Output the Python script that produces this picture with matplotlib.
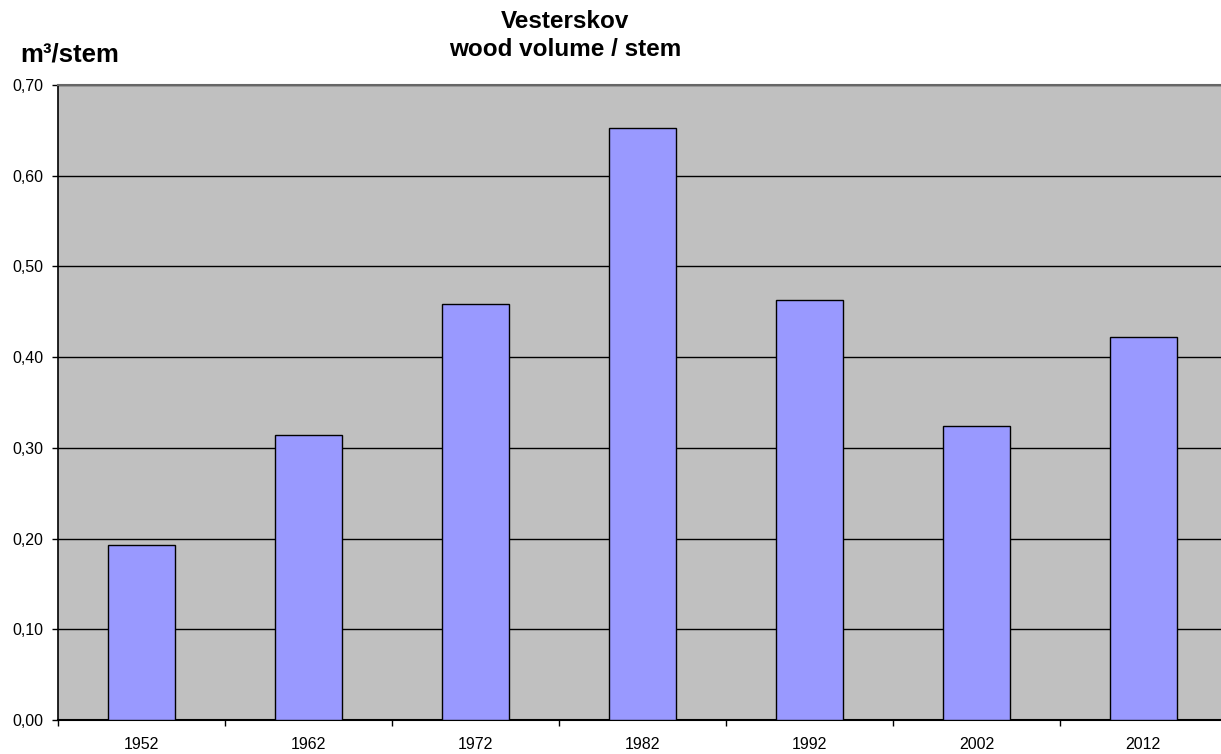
import matplotlib
matplotlib.use("Agg")
import matplotlib.pyplot as plt
from matplotlib.ticker import FixedLocator, NullFormatter

years = ["1952", "1962", "1972", "1982", "1992", "2002", "2012"]
values = [0.193, 0.314, 0.459, 0.653, 0.463, 0.324, 0.422]
yticks = [0.0, 0.1, 0.2, 0.3, 0.4, 0.5, 0.6, 0.7]

plt.rcParams['font.family'] = ['Liberation Sans', 'DejaVu Sans']

fig = plt.figure(figsize=(12.21, 7.54), dpi=100)
ax = fig.add_axes([58.3 / 1221, 34 / 754, 1168.5 / 1221, 635 / 754])
ax.set_facecolor('#c0c0c0')

x = list(range(len(years)))
ax.bar(x, values, width=0.404, color='#9999ff', edgecolor='black', linewidth=1.0, zorder=3)

ax.set_xlim(-0.5, len(years) - 0.5)
ax.set_ylim(0, 0.70)
ax.set_yticks(yticks)
ax.set_yticklabels([f"{v:.2f}".replace('.', ',') for v in yticks], fontsize=11.5)
ax.yaxis.grid(True, color='black', linewidth=1.0, zorder=1)
ax.set_axisbelow(True)

ax.set_xticks(x)
ax.set_xticklabels(years, fontsize=11.5)
ax.tick_params(axis='x', which='major', length=0, pad=12)
ax.xaxis.set_minor_locator(FixedLocator([i + 0.5 for i in range(-1, len(years))]))
ax.xaxis.set_minor_formatter(NullFormatter())
ax.tick_params(axis='x', which='minor', length=4, width=1, color='black')
ax.tick_params(axis='y', length=4, width=1, color='black', pad=7)

ax.spines['left'].set_color('black')
ax.spines['left'].set_linewidth(1.2)
ax.spines['bottom'].set_color('black')
ax.spines['bottom'].set_linewidth(1.5)
ax.spines['top'].set_color('#666666')
ax.spines['top'].set_linewidth(1.5)
ax.spines['right'].set_visible(False)

fig.text(565 / 1221, 1 - 21 / 754, "Vesterskov", ha='center', va='center',
         fontsize=17.5, fontweight='bold')
fig.text(565 / 1221, 1 - 49 / 754, "wood volume / stem", ha='center', va='center',
         fontsize=17.5, fontweight='bold')
fig.text(20 / 1221, 1 - 54 / 754, "m\u00b3/stem", ha='left', va='center', fontsize=18.5, fontweight='bold')

fig.savefig("out.png", dpi=100)
